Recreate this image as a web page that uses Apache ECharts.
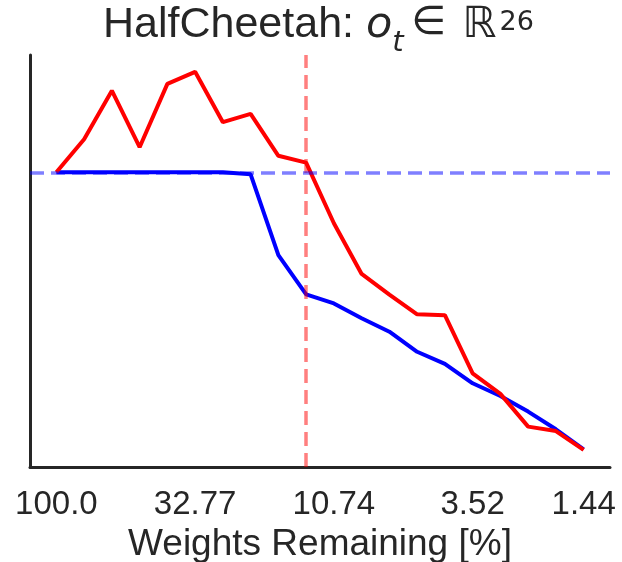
<!DOCTYPE html>
<html>
<head>
<meta charset="utf-8">
<script src="https://cdn.jsdelivr.net/npm/echarts@6/dist/echarts.min.js"></script>
<style>
  html, body { margin: 0; padding: 0; background: #ffffff; }
  #chart { width: 622px; height: 562px; }
</style>
</head>
<body>
<div id="chart"></div>
<script>
// Weights remaining [%] at each pruning round
const weightsRemaining = [100.0, 80.0, 64.0, 51.2, 40.96, 32.77, 26.21, 20.97, 16.78, 13.42,
                          10.74, 8.59, 6.87, 5.5, 4.4, 3.52, 2.81, 2.25, 1.8, 1.44];
// Normalised performance (dense network = 1.0)
const redSeries  = [1.00, 1.112, 1.277, 1.085, 1.300, 1.341, 1.170, 1.198, 1.056, 1.033,
                    0.827, 0.655, 0.585, 0.518, 0.515, 0.318, 0.248, 0.137, 0.122, 0.058];
const blueSeries = [1.00, 1.00, 1.00, 1.00, 1.00, 1.00, 1.00, 0.993, 0.719, 0.586,
                    0.555, 0.505, 0.459, 0.391, 0.350, 0.284, 0.241, 0.188, 0.128, 0.060];
// Tick positions (round index) and their labels
const tickIndices = [0, 5, 10, 15, 19];
const tickLabels  = ['100.0', '32.77', '10.74', '3.52', '1.44'];
// Reference lines
const baselineLevel = 1.0;
const markerRound = 9;

const textColor = '#262626';
const chart = echarts.init(document.getElementById('chart'), null, { renderer: 'canvas' });

const toPairs = arr => arr.map((v, i) => [i, v]);

const big = { color: textColor, fontWeight: 'normal', fontSize: 43, lineHeight: 54, padding: [0, 0, 3, 0], verticalAlign: 'top' };

chart.setOption({
  backgroundColor: '#ffffff',
  animation: false,
  title: {
    text: '{a|HalfCheetah: }{m|o}{s|t}{b|\u2208}{r|\u211D}{p|26}',
    left: 103,
    top: 4,
    padding: 0,
    textStyle: {
      fontWeight: 'normal',
      rich: {
        a: Object.assign({}, big, { fontFamily: 'Liberation Sans' }),
        m: Object.assign({}, big, { fontFamily: 'DejaVu Sans', fontStyle: 'italic' }),
        s: { fontFamily: 'DejaVu Sans', fontStyle: 'italic', fontWeight: 'normal', fontSize: 29, color: textColor, lineHeight: 29, verticalAlign: 'bottom' },
        b: Object.assign({}, big, { fontFamily: 'DejaVu Sans', fontSize: 40, padding: [0, 16, 3, 8] }),
        r: Object.assign({}, big, { fontFamily: 'DejaVu Sans', fontStyle: 'italic', padding: [0, 3, 3, 0] }),
        p: { fontFamily: 'DejaVu Sans', fontWeight: 'normal', fontSize: 27, color: textColor, lineHeight: 27, padding: [5, 0, 0, 0], verticalAlign: 'top' }
      }
    }
  },
  grid: { left: 30, right: 12, top: 55, bottom: 95, containLabel: false, outerBoundsMode: 'none' },
  xAxis: {
    type: 'value',
    min: -0.95,
    max: 19.95,
    name: 'Weights Remaining [%]',
    nameLocation: 'middle',
    nameGap: 58,
    nameTextStyle: { fontFamily: 'Liberation Sans', fontSize: 37, color: textColor },
    axisLine: { show: true, onZero: false, lineStyle: { color: textColor, width: 3 } },
    axisTick: { show: false },
    splitLine: { show: false },
    axisLabel: {
      customValues: tickIndices,
      margin: 21,
      fontFamily: 'Liberation Sans',
      fontSize: 33,
      color: textColor,
      formatter: v => {
        const k = tickIndices.indexOf(Math.round(v));
        return k >= 0 ? tickLabels[k] : '';
      }
    }
  },
  yAxis: {
    type: 'value',
    min: 0,
    max: 1.398,
    axisLine: { show: true, onZero: false, lineStyle: { color: textColor, width: 3 } },
    axisTick: { show: false },
    axisLabel: { show: false },
    splitLine: { show: false }
  },
  series: [
    {
      type: 'line',
      data: toPairs(blueSeries),
      symbol: 'none',
      lineStyle: { color: '#0000ff', width: 4 },
      z: 2
    },
    {
      type: 'line',
      data: toPairs(redSeries),
      symbol: 'none',
      lineStyle: { color: '#ff0000', width: 4 },
      z: 3
    },
    {
      type: 'line',
      data: [],
      z: 5,
      markLine: {
        silent: true,
        symbol: ['none', 'none'],
        label: { show: false },
        animation: false,
        data: [
          { xAxis: markerRound, lineStyle: { color: 'rgba(255,0,0,0.5)', width: 3.5, type: [14, 7] } },
          { yAxis: baselineLevel, lineStyle: { color: 'rgba(0,0,255,0.5)', width: 3.5, type: [14, 7] } }
        ]
      }
    }
  ]
});
</script>
</body>
</html>
